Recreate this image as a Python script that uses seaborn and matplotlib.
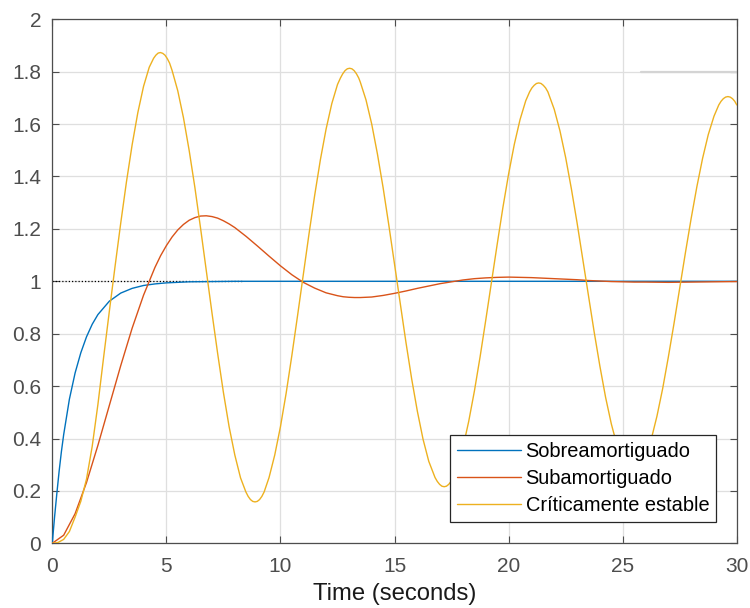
import numpy as np
import pandas as pd
import matplotlib
matplotlib.use("Agg")
import matplotlib.pyplot as plt
import seaborn as sns

# ---- data ----
series_names = ["Sobreamortiguado", "Subamortiguado", "Críticamente estable"]

over_t = [0, 0.1, 0.2, 0.3, 0.4, 0.5, 0.75, 1.0, 1.25, 1.5, 1.75, 2.0, 2.5, 3.0,
          3.5, 4.0, 4.5, 5.0, 6.0, 7.0, 8.0, 30.0]
over_y = [0, 0.100, 0.190, 0.275, 0.350, 0.415, 0.550, 0.650, 0.727, 0.788, 0.836,
          0.873, 0.924, 0.955, 0.973, 0.984, 0.990, 0.994, 0.998, 0.999, 1.0, 1.0]

under_t = [0, 0.5, 1.0, 1.5, 2.0, 2.5, 3.0, 3.5, 4.0, 4.5, 4.75, 5.0, 5.25, 5.5,
           5.75, 6.0, 6.25, 6.5, 6.75, 7.0, 7.25, 7.5, 7.75, 8.0, 8.5, 9.0, 9.5,
           10.0, 10.5, 11.0, 11.5, 12.0, 12.5, 12.75, 13.0, 13.25, 13.5, 13.75,
           14.0, 14.25, 14.5, 15.0, 15.5, 16.0, 16.5, 17.0, 17.5, 18.0, 18.5,
           19.0, 19.5, 20.0, 20.5, 21.0, 21.5, 22.0, 22.5, 23.0, 23.5, 24.0,
           24.5, 25.0, 25.5, 26.0, 27.0, 28.0, 29.0, 30.0]
under_y = [0, 0.031, 0.113, 0.232, 0.374, 0.526, 0.678, 0.821, 0.947, 1.053,
           1.098, 1.136, 1.169, 1.196, 1.217, 1.233, 1.243, 1.249, 1.250, 1.247,
           1.241, 1.231, 1.219, 1.205, 1.171, 1.134, 1.096, 1.059, 1.025, 0.996,
           0.974, 0.956, 0.945, 0.941, 0.939, 0.938, 0.938, 0.939, 0.940, 0.943,
           0.946, 0.954, 0.963, 0.973, 0.982, 0.991, 0.998, 1.005, 1.010, 1.013,
           1.015, 1.016, 1.015, 1.014, 1.012, 1.010, 1.008, 1.006, 1.003, 1.001,
           0.999, 0.998, 0.997, 0.997, 0.996, 0.997, 0.998, 0.999]

crit_t = [0, 0.25, 0.5, 0.75, 1.0, 1.25, 1.5, 1.75, 2.0, 2.25, 2.5, 2.75, 3.0,
          3.25, 3.5, 3.75, 4.0, 4.25, 4.34, 4.44, 4.54, 4.64, 4.74, 4.84, 4.94,
          5.04, 5.14, 5.25, 5.5, 5.75, 6.0, 6.25, 6.5, 6.75, 7.0, 7.25, 7.5,
          7.75, 8.0, 8.25, 8.485, 8.585, 8.685, 8.785, 8.885, 8.985, 9.085,
          9.185, 9.285, 9.5, 9.75, 10.0, 10.25, 10.5, 10.75, 11.0, 11.25, 11.5,
          11.75, 12.0, 12.25, 12.5, 12.63, 12.73, 12.83, 12.93, 13.03, 13.13,
          13.23, 13.33, 13.43, 13.5, 13.75, 14.0, 14.25, 14.5, 14.75, 15.0,
          15.25, 15.5, 15.75, 16.0, 16.25, 16.5, 16.775, 16.875, 16.975, 17.075,
          17.175, 17.275, 17.375, 17.475, 17.575, 17.75, 18.0, 18.25, 18.5,
          18.75, 19.0, 19.25, 19.5, 19.75, 20.0, 20.25, 20.5, 20.75, 20.92,
          21.02, 21.12, 21.22, 21.32, 21.42, 21.52, 21.62, 21.72, 22.0, 22.25,
          22.5, 22.75, 23.0, 23.25, 23.5, 23.75, 24.0, 24.25, 24.5, 24.75, 25.0,
          25.065, 25.165, 25.265, 25.365, 25.465, 25.565, 25.665, 25.765,
          25.865, 26.0, 26.25, 26.5, 26.75, 27.0, 27.25, 27.5, 27.75, 28.0,
          28.25, 28.5, 28.75, 29.0, 29.21, 29.31, 29.41, 29.51, 29.61, 29.71,
          29.81, 29.91, 30.0]
crit_y = [0.000, 0.003, 0.015, 0.045, 0.100, 0.160, 0.245, 0.370, 0.530, 0.710,
          0.885, 1.056, 1.222, 1.379, 1.521, 1.644, 1.744, 1.817, 1.833, 1.851,
          1.863, 1.871, 1.873, 1.870, 1.863, 1.850, 1.833, 1.805, 1.727, 1.624,
          1.499, 1.358, 1.202, 1.041, 0.879, 0.723, 0.576, 0.445, 0.337, 0.250,
          0.196, 0.179, 0.167, 0.160, 0.158, 0.160, 0.167, 0.179, 0.196, 0.251,
          0.337, 0.445, 0.573, 0.717, 0.869, 1.025, 1.180, 1.328, 1.464, 1.581,
          1.678, 1.751, 1.776, 1.792, 1.804, 1.811, 1.813, 1.811, 1.804, 1.792,
          1.776, 1.760, 1.692, 1.600, 1.486, 1.357, 1.214, 1.065, 0.914, 0.767,
          0.628, 0.504, 0.397, 0.313, 0.251, 0.236, 0.225, 0.218, 0.216, 0.218,
          0.225, 0.236, 0.251, 0.292, 0.366, 0.465, 0.581, 0.712, 0.853, 0.998,
          1.142, 1.282, 1.410, 1.523, 1.617, 1.689, 1.723, 1.738, 1.748, 1.755,
          1.757, 1.755, 1.748, 1.738, 1.723, 1.656, 1.574, 1.472, 1.353, 1.223,
          1.084, 0.944, 0.806, 0.676, 0.557, 0.456, 0.374, 0.315, 0.303, 0.288,
          0.278, 0.271, 0.269, 0.271, 0.278, 0.288, 0.303, 0.331, 0.397, 0.485,
          0.590, 0.711, 0.840, 0.975, 1.110, 1.240, 1.361, 1.469, 1.560, 1.630,
          1.673, 1.687, 1.697, 1.703, 1.705, 1.703, 1.697, 1.687, 1.673]

final_value = 1.0
dotted_end = 8.3

x_ticks = [0, 5, 10, 15, 20, 25, 30]
y_ticks = [0, 0.2, 0.4, 0.6, 0.8, 1.0, 1.2, 1.4, 1.6, 1.8, 2.0]
y_tick_labels = ["0", "0.2", "0.4", "0.6", "0.8", "1", "1.2", "1.4", "1.6", "1.8", "2"]
x_label = "Time (seconds)"

colors = ["#0072BD", "#D95319", "#EDB120"]

assert len(over_t) == len(over_y)
assert len(under_t) == len(under_y)
assert len(crit_t) == len(crit_y)

# ---- build long table ----
frames = []
for name, tt, yy in zip(series_names, [over_t, under_t, crit_t], [over_y, under_y, crit_y]):
    frames.append(pd.DataFrame({"t": tt, "y": yy, "serie": name}))
df = pd.concat(frames, ignore_index=True)

sns.set_theme(style="white")
plt.rcParams["font.family"] = ["Liberation Sans", "DejaVu Sans"]

fig = plt.figure(figsize=(7.5, 6.08), dpi=100)
ax = fig.add_axes([0.0697, 0.1064, 0.9127, 0.8619])

grid_c = "#dfdfdf"
ax.set_axisbelow(True)
ax.grid(True, color=grid_c, linewidth=0.9)
# slightly heavier grid fragment visible in the top right of the reference
ax.axhline(1.8, xmin=0.86, xmax=1.0, color="#d4d4d4", linewidth=1.6, zorder=0.8)

ax.hlines(final_value, 0, dotted_end, colors="black", linestyles=(0, (1, 1.6)),
          linewidth=0.9, zorder=1.5)

sns.lineplot(data=df, x="t", y="y", hue="serie", palette=colors, hue_order=series_names,
             sort=False, estimator=None, linewidth=1.0, ax=ax, zorder=3)

ax.set_xlim(0, 30)
ax.set_ylim(0, 2)
ax.set_xticks(x_ticks)
ax.set_xticklabels([str(v) for v in x_ticks])
ax.set_yticks(y_ticks)
ax.set_yticklabels(y_tick_labels)

axis_c = "#4d4d4d"
for sp in ax.spines.values():
    sp.set_color(axis_c)
    sp.set_linewidth(0.9)
ax.tick_params(axis="both", which="both", direction="in", length=5, width=0.8,
               color=axis_c, labelcolor="#4d4d4d", labelsize=15,
               top=True, right=True, bottom=True, left=True)
ax.tick_params(axis="x", pad=10)
ax.tick_params(axis="y", pad=8)

ax.set_xlabel(x_label, fontsize=17.2, color="#1a1a1a", labelpad=5)
ax.set_ylabel("")

leg = ax.legend(loc="lower right", bbox_to_anchor=(0.970, 0.041), borderaxespad=0,
                fontsize=14.4, frameon=True, fancybox=False, framealpha=1,
                edgecolor="#262626", handlelength=3.2, handletextpad=0.25,
                labelspacing=0.4, borderpad=0.35, title=None)
leg.get_frame().set_linewidth(0.9)
for text in leg.get_texts():
    text.set_color("#000000")

fig.savefig("out.png", dpi=100)
